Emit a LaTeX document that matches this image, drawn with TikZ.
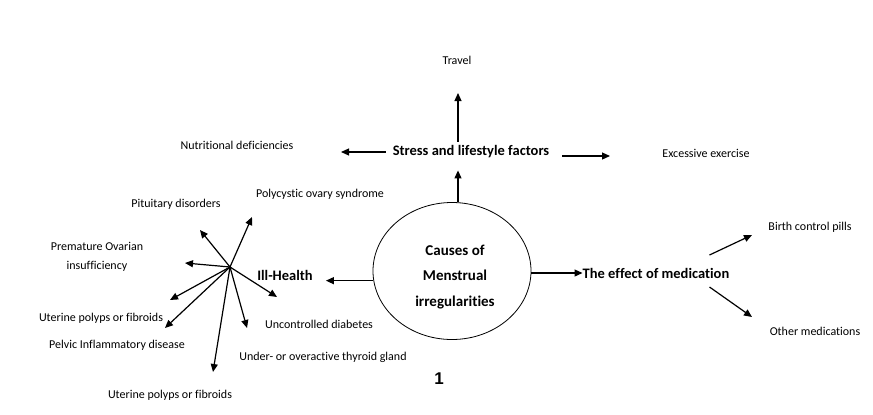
\documentclass[tikz,border=0pt]{standalone}
\usepackage{fontspec}
\setmainfont{Carlito}[Ligatures=NoCommon]
\newfontfamily\numfont{Liberation Sans}
\usetikzlibrary{calc, arrows.meta, shapes.geometric}
\begin{document}
\begin{tikzpicture}[x=1pt, y=-1pt,
        arr/.style={-{Triangle[length=8pt, width=7pt]}, line width=1.2pt},
        txt/.style={font=\fontsize{12}{19}\selectfont, inner sep=0pt},
        head/.style={font=\fontsize{14.5}{17}\selectfont\bfseries, inner sep=0pt}]
            \useasboundingbox (0,0) rectangle (873,415);
            \node[ellipse, draw, line width=0.8pt, minimum width=158pt, minimum height=137pt] (causes) at (452,271) {};
            \node[align=center, font=\fontsize{15}{25.5}\selectfont\bfseries] (causestxt) at (455,277) {Causes of\\Menstrual\\irregularities};
            \node[head] (stress) at (471,152) {Stress and lifestyle factors};
            \node[head] (ill) at (285,275) {Ill-Health};
            \node[head] (med) at (656,273) {The effect of medication};
            \node[txt] (travel) at (457,60) {Travel};
            \node[txt] (nutri) at (237,145) {Nutritional deficiencies};
            \node[txt] (exer) at (706,153) {Excessive exercise};
            \node[txt] (poly) at (320,194) {Polycystic ovary syndrome};
            \node[txt] (pit) at (176,204) {Pituitary disorders};
            \node[txt, align=center] (prem) at (97,257) {Premature Ovarian\\insufficiency};
            \node[txt] (ute1) at (101,318) {Uterine polyps or fibroids};
            \node[txt] (pelv) at (117,345) {Pelvic Inflammatory disease};
            \node[txt] (diab) at (319,324) {Uncontrolled diabetes};
            \node[txt] (thyr) at (323,357) {Under- or overactive thyroid gland};
            \node[txt] (ute2) at (170,395) {Uterine polyps or fibroids};
            \node[txt] (pill) at (810,227) {Birth control pills};
            \node[txt] (other) at (815,331) {Other medications};
            \node[font=\numfont\fontsize{17}{20}\selectfont\bfseries, inner sep=0pt] (num) at (439,379) {1};
            \coordinate (tr) at (458,93);
            \coordinate (nd) at (341,151);
            \coordinate (ex) at (610,156);
            \coordinate (hub) at (230,267);
            \coordinate (bp) at (752,235);
            \coordinate (om) at (752,317);
            \draw[arr] ([yshift=4pt]stress.north -| tr) -- (tr);
            \draw[arr] ([xshift=-7pt]stress.west) -- (stress.west -| nd);
            \draw[arr] ([xshift=13pt]stress.east |- ex) -- (ex);
            \draw[arr, shorten >=12pt] (causes.north -| tr) -- (stress.south -| tr);
            \draw[arr, shorten >=13pt] (causes.187) -- (causes.187 -| ill.east);
            \draw[arr] (causes.east |- med.west) -- (med.west);
            \draw[arr] ($(med.east)+(-20,-18)$) -- (bp);
            \draw[arr] ($(med.east)+(-20,14)$) -- (om);
            \foreach \x/\y in {252/217, 200/230, 185/263, 170/300, 165/328, 213/372, 247/328, 277/297}
                \draw[arr] (hub) -- (\x,\y);
        \end{tikzpicture}
\end{document}
